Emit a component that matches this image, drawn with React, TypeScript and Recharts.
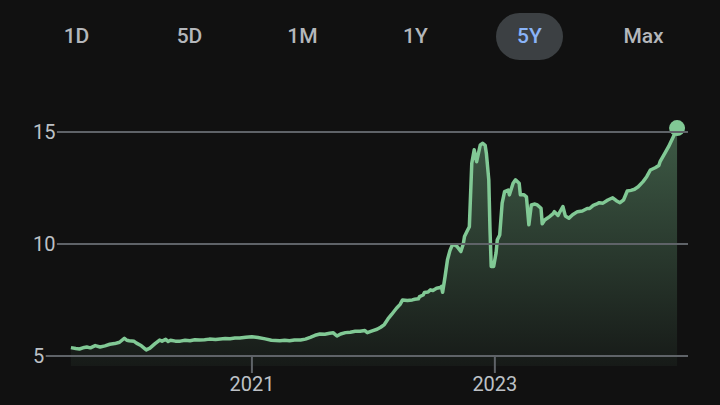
import React from 'react';
import { ComposedChart, Area, XAxis, YAxis } from 'recharts';

// ─── Data (decimal years) ────────────────────────────────────────────────────

const years: number[] = [
  2019.51, 2019.55, 2019.58, 2019.62, 2019.64, 2019.67, 2019.71, 2019.75, 2019.79, 2019.83,
  2019.87, 2019.91, 2019.95, 2019.97, 2019.99, 2020.03, 2020.05, 2020.09, 2020.13, 2020.16,
  2020.2, 2020.24, 2020.26, 2020.29, 2020.31, 2020.33, 2020.37, 2020.41, 2020.45, 2020.49,
  2020.53, 2020.57, 2020.61, 2020.65, 2020.7, 2020.74, 2020.78, 2020.82, 2020.86, 2020.9,
  2020.95, 2021.0, 2021.05, 2021.11, 2021.16, 2021.23, 2021.27, 2021.31, 2021.35, 2021.4,
  2021.44, 2021.48, 2021.52, 2021.56, 2021.6, 2021.64, 2021.67, 2021.7, 2021.73, 2021.77,
  2021.81, 2021.85, 2021.89, 2021.93, 2021.95, 2021.99, 2022.03, 2022.06, 2022.09, 2022.12,
  2022.15, 2022.19, 2022.22, 2022.24, 2022.28, 2022.32, 2022.34, 2022.37, 2022.38, 2022.41,
  2022.42, 2022.45, 2022.47, 2022.49, 2022.52, 2022.55, 2022.56, 2022.57, 2022.59, 2022.61,
  2022.63, 2022.65, 2022.67, 2022.69, 2022.72, 2022.74, 2022.75, 2022.77, 2022.79, 2022.81,
  2022.83, 2022.85, 2022.88, 2022.9, 2022.92, 2022.93, 2022.95, 2022.96, 2022.97, 2022.99,
  2023.01, 2023.02, 2023.04, 2023.06, 2023.08, 2023.11, 2023.12, 2023.15, 2023.17, 2023.2,
  2023.21, 2023.24, 2023.26, 2023.28, 2023.3, 2023.33, 2023.35, 2023.38, 2023.39, 2023.41,
  2023.44, 2023.45, 2023.48, 2023.49, 2023.52, 2023.53, 2023.56, 2023.58, 2023.61, 2023.64,
  2023.68, 2023.72, 2023.76, 2023.78, 2023.81, 2023.84, 2023.86, 2023.89, 2023.93, 2023.97,
  2024.0, 2024.03, 2024.06, 2024.09, 2024.12, 2024.15, 2024.18, 2024.22, 2024.25, 2024.28,
  2024.32, 2024.35, 2024.36, 2024.4, 2024.43, 2024.47, 2024.5,
];

const prices: number[] = [
  5.37, 5.33, 5.31, 5.38, 5.4, 5.36, 5.46, 5.4, 5.45, 5.52,
  5.55, 5.61, 5.79, 5.7, 5.68, 5.65, 5.57, 5.45, 5.27, 5.35,
  5.54, 5.71, 5.66, 5.74, 5.64, 5.7, 5.66, 5.66, 5.7, 5.68,
  5.72, 5.71, 5.72, 5.75, 5.73, 5.76, 5.78, 5.77, 5.8, 5.8,
  5.83, 5.86, 5.82, 5.76, 5.7, 5.68, 5.7, 5.68, 5.71, 5.71,
  5.75, 5.83, 5.92, 5.98, 5.97, 6.01, 6.03, 5.89, 5.98, 6.04,
  6.06, 6.1, 6.1, 6.13, 6.04, 6.12, 6.19, 6.28, 6.4, 6.65,
  6.85, 7.13, 7.3, 7.5, 7.47, 7.5, 7.53, 7.55, 7.65, 7.72,
  7.83, 7.85, 7.95, 7.92, 8.02, 8.05, 8.1, 7.84, 8.54, 9.29,
  9.7, 9.96, 9.95, 9.88, 9.66, 10.0, 10.33, 10.55, 10.77, 13.6,
  14.2, 13.67, 14.42, 14.49, 14.4, 14.05, 12.86, 10.63, 8.99, 8.99,
  9.6, 10.18, 10.4, 11.82, 12.33, 12.4, 12.19, 12.71, 12.86, 12.71,
  12.19, 12.19, 12.1, 10.85, 11.74, 11.78, 11.74, 11.59, 10.9, 11.07,
  11.18, 11.22, 11.35, 11.44, 11.27, 11.38, 11.67, 11.25, 11.15, 11.3,
  11.44, 11.47, 11.58, 11.58, 11.72, 11.79, 11.84, 11.82, 11.96, 12.06,
  11.93, 11.84, 11.97, 12.36, 12.39, 12.44, 12.55, 12.78, 13.0, 13.3,
  13.4, 13.5, 13.67, 14.05, 14.34, 14.79, 15.17,
];

const xTicks: number[] = [2021, 2023];
const yTicks: number[] = [5, 10, 15];
const ranges: string[] = ['1D', '5D', '1M', '1Y', '5Y', 'Max'];
const activeRange = '5Y';

const data = years.map((t, i) => ({ t, price: prices[i] }));

// ─── Styling ─────────────────────────────────────────────────────────────────

const BG = '#111111';
const GREEN = '#81c995';
const GRID = '#5f6368';
const LABEL = '#bdc1c6';
const FONT = 'Roboto, "Noto Sans", sans-serif';

const W = 720;
const H = 405;
const PLOT_RIGHT = 688;

// ─── Custom ticks ────────────────────────────────────────────────────────────

function YTick(props: any): React.ReactElement {
  const { y, payload } = props;
  const label = String(payload.value);
  const lineStart = 33 + label.length * 11.2 + 1.5;
  return (
    <g>
      <line x1={lineStart} x2={PLOT_RIGHT} y1={y} y2={y} stroke={GRID} strokeWidth={2} />
      <text
        x={33}
        y={y}
        textAnchor="start"
        dominantBaseline="central"
        fontSize={20}
        fontFamily={FONT}
        fill={LABEL}
      >
        {label}
      </text>
    </g>
  );
}

function XTick(props: any): React.ReactElement {
  const { x, y, payload } = props;
  return (
    <g>
      <line x1={x} x2={x} y1={y - 10} y2={y + 7} stroke={GRID} strokeWidth={2} />
      <text
        x={x}
        y={y + 25}
        textAnchor="middle"
        fontSize={20}
        fontFamily={FONT}
        fill={LABEL}
      >
        {payload.value}
      </text>
    </g>
  );
}

function EndDot(props: any): React.ReactElement {
  const { cx, cy, index } = props;
  if (index !== data.length - 1) return <g key={`d-${index}`} />;
  return <circle key={`d-${index}`} cx={cx} cy={cy} r={8} fill={GREEN} />;
}

// ─── Component ───────────────────────────────────────────────────────────────

export default function App(): React.ReactElement {
  const centers = [77, 190, 303, 416, 530, 644];

  return (
    <div
      style={{
        position: 'fixed',
        left: 0,
        top: 0,
        width: W,
        height: H,
        background: BG,
        fontFamily: FONT,
        overflow: 'hidden',
      }}
    >
      {ranges.map((r, i) => {
        const active = r === activeRange;
        return (
          <div
            key={r}
            style={{
              position: 'absolute',
              left: centers[i] - 34,
              top: 13,
              width: 67,
              height: 47,
              lineHeight: '47px',
              borderRadius: 24,
              textAlign: 'center',
              fontSize: 21,
              fontWeight: 500,
              color: active ? '#8ab4f8' : '#b4b7bb',
              background: active ? '#3c4043' : 'transparent',
            }}
          >
            {r}
          </div>
        );
      })}

      <div style={{ position: 'absolute', left: 0, top: 0 }}>
        <ComposedChart
          width={W}
          height={H}
          data={data}
          margin={{ top: 109.5, right: W - PLOT_RIGHT, bottom: 38, left: 59 }}
        >
          <defs>
            <linearGradient id="priceFill" x1="0" y1="0" x2="0" y2="1">
              <stop offset="0%" stopColor={GREEN} stopOpacity={0.4} />
              <stop offset="100%" stopColor={GREEN} stopOpacity={0.05} />
            </linearGradient>
          </defs>
          <XAxis
            dataKey="t"
            type="number"
            domain={[2019.42, 2024.59]}
            allowDataOverflow
            ticks={xTicks}
            height={1}
            axisLine={false}
            tickLine={false}
            tickSize={0}
            tickMargin={0}
            tick={<XTick />}
            interval={0}
          />
          <YAxis
            type="number"
            domain={[4.55, 16]}
            allowDataOverflow
            ticks={yTicks}
            width={1}
            axisLine={false}
            tickLine={false}
            tickSize={0}
            tickMargin={0}
            tick={<YTick />}
            interval={0}
          />
          <Area
            type="linear"
            dataKey="price"
            stroke={GREEN}
            strokeWidth={3.5}
            strokeLinejoin="round"
            fill="url(#priceFill)"
            fillOpacity={1}
            dot={EndDot}
            activeDot={false}
            isAnimationActive={false}
          />
        </ComposedChart>
      </div>
    </div>
  );
}
